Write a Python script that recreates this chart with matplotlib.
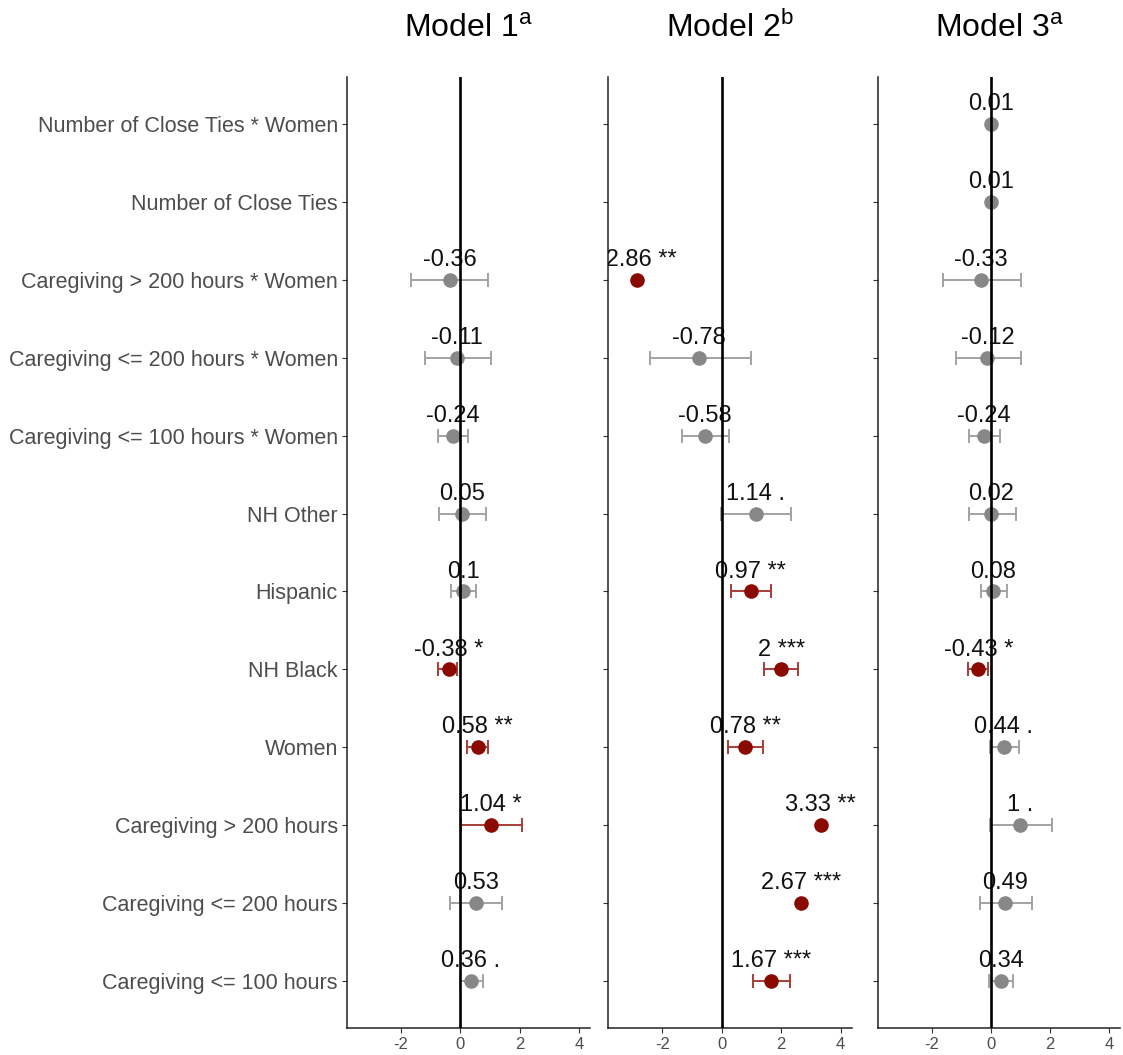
import numpy as np
import matplotlib
matplotlib.use('Agg')
import matplotlib.pyplot as plt
from matplotlib.patches import Rectangle

plt.rcParams['font.family'] = ['Liberation Sans', 'DejaVu Sans']
plt.rcParams['mathtext.fontset'] = 'custom'
plt.rcParams['mathtext.rm'] = 'Liberation Sans'

# terms, top to bottom as shown
terms = ['Number of Close Ties * Women', 'Number of Close Ties',
         'Caregiving > 200 hours * Women', 'Caregiving <= 200 hours * Women',
         'Caregiving <= 100 hours * Women', 'NH Other', 'Hispanic', 'NH Black',
         'Women', 'Caregiving > 200 hours', 'Caregiving <= 200 hours',
         'Caregiving <= 100 hours']

titles = ['Model 1$^{\\mathrm{a}}$', 'Model 2$^{\\mathrm{b}}$', 'Model 3$^{\\mathrm{a}}$']

nan = np.nan
est_m1 = [nan, nan, -0.36, -0.11, -0.24, 0.05, 0.10, -0.38, 0.58, 1.04, 0.53, 0.36]
lo_m1 = [nan, nan, -1.66, -1.19, -0.75, -0.71, -0.31, -0.75, 0.23, 0.02, -0.34, -0.02]
hi_m1 = [nan, nan, 0.95, 1.02, 0.27, 0.85, 0.54, -0.10, 0.92, 2.07, 1.42, 0.78]
lab_m1 = ['', '', '-0.36', '-0.11', '-0.24', '0.05', '0.1', '-0.38 *', '0.58 **',
          '1.04 *', '0.53', '0.36 .']

est_m2 = [nan, nan, -2.86, -0.78, -0.58, 1.14, 0.97, 2.00, 0.78, 3.33, 2.67, 1.67]
lo_m2 = [nan, nan, nan, -2.43, -1.33, -0.03, 0.30, 1.43, 0.21, nan, nan, 1.04]
hi_m2 = [nan, nan, nan, 0.97, 0.24, 2.33, 1.66, 2.57, 1.37, nan, nan, 2.30]
lab_m2 = ['', '', '-2.86 **', '-0.78', '-0.58', '1.14 .', '0.97 **', '2 ***', '0.78 **',
          '3.33 **', '2.67 ***', '1.67 ***']

est_m3 = [0.01, 0.01, -0.33, -0.12, -0.24, 0.02, 0.08, -0.43, 0.44, 1.00, 0.49, 0.34]
lo_m3 = [0.00, 0.00, -1.63, -1.19, -0.75, -0.75, -0.34, -0.78, -0.03, -0.03, -0.37, -0.07]
hi_m3 = [0.02, 0.02, 1.02, 1.02, 0.31, 0.85, 0.54, -0.10, 0.95, 2.07, 1.39, 0.75]
lab_m3 = ['0.01', '0.01', '-0.33', '-0.12', '-0.24', '0.02', '0.08', '-0.43 *', '0.44 .',
          '1 .', '0.49', '0.34']

models = [(est_m1, lo_m1, hi_m1, lab_m1),
          (est_m2, lo_m2, hi_m2, lab_m2),
          (est_m3, lo_m3, hi_m3, lab_m3)]

W, H = 1123, 1055
fig = plt.figure(figsize=(W / 100, H / 100), dpi=100)

# panel pixel extents (left, right)
panels_px = [(347, 590), (608, 852), (878, 1120)]
top_px, bot_px = 77, 1028

ypos = np.arange(len(terms), 0, -1)

for k, (est, lo, hi, lab) in enumerate(models):
    l, r = panels_px[k]
    ax = fig.add_axes([l / W, 1 - bot_px / H, (r - l) / W, (bot_px - top_px) / H])
    est = np.array(est); lo = np.array(lo); hi = np.array(hi)
    # labels are clipped on the left edge only
    clip = Rectangle((0, -0.1), 1.2, 1.2, transform=ax.transAxes, visible=False)
    ax.add_patch(clip)
    for i in range(len(terms)):
        if np.isnan(est[i]):
            continue
        sig = '*' in lab[i]
        pcol = '#8b0a00' if sig else '#878787'
        ecol = '#a83c36' if sig else '#a3a3a3'
        if not np.isnan(lo[i]):
            ax.errorbar(est[i], ypos[i], xerr=[[est[i] - lo[i]], [hi[i] - est[i]]],
                        fmt='none', ecolor=ecol, elinewidth=1.4, capsize=5,
                        capthick=1.4, zorder=2)
        ax.plot(est[i], ypos[i], 'o', color=pcol, markersize=10.5, mec='none', zorder=3)
        t = ax.annotate(lab[i], (est[i], ypos[i]), xytext=(0, 10), textcoords='offset points',
                        ha='center', va='baseline', fontsize=17, color='#111111',
                        annotation_clip=False, zorder=4)
        t.set_clip_path(clip)
    ax.axvline(0, color='black', linewidth=1.9, zorder=5)
    ax.set_xlim(-3.83, 4.38)
    ax.set_ylim(0.4, len(terms) + 0.6)
    ax.set_xticks([-2, 0, 2, 4])
    ax.set_xticklabels(['-2', '0', '2', '4'])
    ax.set_yticks(ypos)
    if k == 0:
        ax.set_yticklabels(terms, fontsize=15.5, color='#4d4d4d')
    else:
        ax.set_yticklabels([])
    ax.tick_params(axis='x', labelsize=12, labelcolor='#4d4d4d', color='#333333',
                   length=3.5, width=0.8, pad=3)
    ax.tick_params(axis='y', color='#333333', length=3.5, width=0.8, pad=3)
    for s in ['top', 'right']:
        ax.spines[s].set_visible(False)
    for s in ['left', 'bottom']:
        ax.spines[s].set_linewidth(1.1)
        ax.spines[s].set_color('#222222')
    ax.set_title(titles[k], fontsize=23, pad=29)

fig.savefig('out.png', dpi=100, facecolor='white')
